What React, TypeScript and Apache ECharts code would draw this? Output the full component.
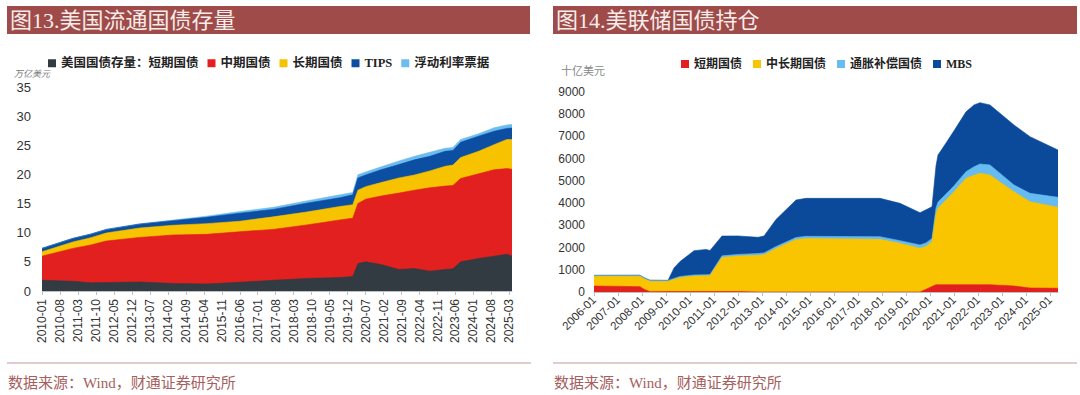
import React, { useEffect, useRef } from "react";
import * as echarts from "echarts";

// ---------- Left chart: 美国流通国债存量 (万亿美元) ----------
const leftDates = [
  "2010-01", "2011-01", "2011-08", "2012-02", "2013-03", "2014-04", "2015-05", "2016-06",
  "2017-07", "2018-08", "2019-09", "2020-02", "2020-04", "2020-07", "2021-01", "2021-08",
  "2022-02", "2022-08", "2023-02", "2023-05", "2023-08", "2024-03", "2024-09", "2025-02", "2025-04",
];
const leftBills = [1.84, 1.68, 1.4, 1.45, 1.55, 1.3, 1.2, 1.5, 1.84, 2.15, 2.3, 2.5, 4.7, 5.0, 4.55, 3.68, 3.85, 3.4, 3.7, 3.8, 5.0, 5.58, 5.98, 6.3, 6.0];
const leftNotes = [4.14, 5.63, 6.5, 7.12, 7.65, 8.3, 8.52, 8.67, 8.73, 9.18, 9.9, 10.0, 10.3, 10.75, 11.75, 13.12, 13.45, 14.3, 14.3, 14.3, 14.3, 14.52, 14.82, 14.7, 14.9];
const leftBonds = [0.75, 1.1, 1.25, 1.38, 1.6, 1.68, 1.83, 1.8, 2.15, 2.22, 2.3, 2.3, 2.3, 2.15, 2.3, 2.6, 2.6, 2.9, 3.4, 3.5, 3.6, 3.87, 4.3, 5.0, 5.1];
const leftTips = [0.6, 0.62, 0.62, 0.62, 0.7, 0.79, 1.09, 1.37, 1.28, 1.51, 1.5, 1.7, 2.1, 2.0, 2.2, 2.3, 2.6, 2.5, 2.57, 2.5, 2.6, 2.6, 2.3, 1.9, 1.95];
const leftFrn = [0, 0, 0, 0, 0, 0.1, 0.2, 0.3, 0.35, 0.4, 0.5, 0.4, 0.55, 0.5, 0.5, 0.6, 0.6, 0.7, 0.53, 0.5, 0.5, 0.4, 0.6, 0.6, 0.6];
const leftNames = ["美国国债存量：短期国债", "中期国债", "长期国债", "TIPS", "浮动利率票据"];
const leftColors = ["#323a42", "#e2201f", "#f7c200", "#0b4ea2", "#6cbcf0"];
const leftYTicks = { min: 0, max: 35, interval: 5 };

// ---------- Right chart: 美联储国债持仓 (十亿美元) ----------
const rightDates = [
  "2006-01", "2007-12", "2008-02", "2008-05", "2009-02", "2009-05", "2009-08", "2010-03",
  "2010-09", "2010-11", "2011-05", "2012-01", "2012-11", "2013-02", "2013-08", "2014-06",
  "2014-11", "2017-12", "2018-10", "2019-08", "2019-11", "2020-02", "2020-04", "2020-05",
  "2020-09", "2021-01", "2021-07", "2021-11", "2022-02", "2022-07", "2023-07", "2024-03", "2025-05",
];
const rightBills = [270, 240, 120, 15, 18, 18, 18, 18, 18, 18, 18, 18, 0, 0, 0, 0, 0, 0, 0, 0, 120, 250, 326, 326, 326, 326, 326, 326, 326, 326, 270, 180, 170];
const rightNotes = [440, 470, 480, 470, 460, 550, 630, 700, 710, 720, 1540, 1600, 1650, 1680, 1960, 2360, 2410, 2370, 2190, 1965, 1930, 2020, 3200, 3440, 3814, 4190, 4790, 4930, 5014, 4940, 4245, 3885, 3640];
const rightTips = [40, 45, 45, 45, 45, 45, 50, 50, 50, 50, 70, 75, 80, 80, 85, 90, 95, 120, 120, 150, 160, 140, 250, 285, 270, 260, 300, 380, 420, 450, 300, 375, 450];
const rightMbs = [0, 0, 0, 0, 0, 470, 670, 1090, 1140, 1080, 890, 830, 730, 760, 1220, 1690, 1710, 1725, 1680, 1455, 1490, 1430, 1900, 2115, 2290, 2480, 2690, 2784, 2760, 2700, 2700, 2550, 2130];
const rightNames = ["短期国债", "中长期国债", "通胀补偿国债", "MBS"];
const rightColors = ["#e2201f", "#f9c400", "#66bbf0", "#0b4a9b"];
const rightYTicks = { min: 0, max: 9000, interval: 1000 };

const leftBaseYear = 2010;
const leftMaxIndex = 183; // 2025-04
const rightBaseYear = 2006;
const rightMaxIndex = 232; // 2025-05

const monthIndex = (d: string, base: number) => {
  const [y, m] = d.split("-").map(Number);
  return (y - base) * 12 + (m - 1);
};
const monthLabel = (v: number, base: number) => {
  const y = base + Math.floor(v / 12);
  const m = (v % 12) + 1;
  return `${y}-${m < 10 ? "0" + m : m}`;
};

function buildStack(
  dates: string[],
  base: number,
  layers: number[][],
  names: string[],
  colors: string[],
  axisIndex: number
) {
  const xs = dates.map((d) => monthIndex(d, base));
  const cum: number[][] = [];
  layers.forEach((arr, li) => {
    cum.push(arr.map((v, i) => (li === 0 ? v : cum[li - 1][i] + v)));
  });
  const series: any[] = [];
  for (let li = layers.length - 1; li >= 0; li--) {
    series.push({
      name: names[li],
      type: "line",
      xAxisIndex: axisIndex,
      yAxisIndex: axisIndex,
      data: xs.map((x, i) => [x, +cum[li][i].toFixed(3)]),
      symbol: "none",
      showSymbol: false,
      silent: true,
      lineStyle: { width: 0.6, color: colors[li] },
      itemStyle: { color: colors[li] },
      areaStyle: { color: colors[li], opacity: 1 },
      emphasis: { disabled: true },
      z: 2,
    });
  }
  return series;
}

const SERIF = '"Liberation Serif", "Noto Sans CJK SC", serif';
const SANS = '"Liberation Sans", Arial, sans-serif';

export default function App() {
  const ref = useRef<HTMLDivElement>(null);
  useEffect(() => {
    if (!ref.current) return;
    const chart = echarts.init(ref.current, null, { renderer: "svg" });
    const leftSeries = buildStack(
      leftDates, leftBaseYear,
      [leftBills, leftNotes, leftBonds, leftTips, leftFrn],
      leftNames, leftColors, 0
    );
    const rightSeries = buildStack(
      rightDates, rightBaseYear,
      [rightBills, rightNotes, rightTips, rightMbs],
      rightNames, rightColors, 1
    );
    const axisGrey = "#bfbfbf";
    const option: any = {
      animation: false,
      backgroundColor: "#ffffff",
      grid: [
        { left: 42, top: 87, width: 470, height: 204 },
        { left: 594, top: 92, width: 464, height: 200 },
      ],
      legend: [
        {
          left: 43, top: 52, itemWidth: 8, itemHeight: 8, itemGap: 9, icon: "rect",
          selectedMode: false, data: leftNames,
          textStyle: { fontSize: 12.5, fontWeight: "bold", fontFamily: SERIF, color: "#222" },
        },
        {
          left: 676, top: 53, itemWidth: 8, itemHeight: 8, itemGap: 11, icon: "rect",
          selectedMode: false, data: rightNames,
          textStyle: { fontSize: 12, fontWeight: "bold", fontFamily: SERIF, color: "#222" },
        },
      ],
      xAxis: [
        {
          type: "value", gridIndex: 0, min: 0, max: leftMaxIndex, interval: 7,
          axisLine: { show: true, onZero: false, lineStyle: { color: axisGrey } },
          axisTick: { show: true, length: 4, lineStyle: { color: axisGrey } },
          splitLine: { show: false },
          axisLabel: {
            rotate: 90, fontSize: 12, color: "#333", fontFamily: SANS, margin: 8,
            showMaxLabel: false, formatter: (v: number) => monthLabel(v, leftBaseYear),
          },
        },
        {
          type: "value", gridIndex: 1, min: 0, max: rightMaxIndex, interval: 12,
          axisLine: { show: true, onZero: false, lineStyle: { color: axisGrey } },
          axisTick: { show: true, length: 4, lineStyle: { color: axisGrey } },
          splitLine: { show: false },
          axisLabel: {
            rotate: 45, fontSize: 11.5, color: "#333", fontFamily: SANS, margin: 6,
            showMaxLabel: false, formatter: (v: number) => monthLabel(v, rightBaseYear),
          },
        },
      ],
      yAxis: [
        {
          type: "value", gridIndex: 0, ...leftYTicks,
          axisLine: { show: false }, axisTick: { show: false }, splitLine: { show: false },
          axisLabel: { fontSize: 13, color: "#333", fontFamily: SANS, margin: 11, formatter: (v: number) => String(v) },
        },
        {
          type: "value", gridIndex: 1, ...rightYTicks,
          axisLine: { show: false }, axisTick: { show: false }, splitLine: { show: false },
          axisLabel: { fontSize: 12, color: "#333", fontFamily: SANS, margin: 9, formatter: (v: number) => String(v) },
        },
      ],
      graphic: [
        { type: "rect", shape: { x: 7, y: 6, width: 523, height: 28 }, style: { fill: "#9e4b49" }, silent: true },
        { type: "rect", shape: { x: 553, y: 6, width: 524, height: 28 }, style: { fill: "#9e4b49" }, silent: true },
        {
          type: "text", x: 10, y: 20, silent: true,
          style: { text: "图13.美国流通国债存量", fill: "#f7ecea", fontSize: 22, fontFamily: SERIF, verticalAlign: "middle", align: "left" },
        },
        {
          type: "text", x: 556, y: 20, silent: true,
          style: { text: "图14.美联储国债持仓", fill: "#f7ecea", fontSize: 22, fontFamily: SERIF, verticalAlign: "middle", align: "left" },
        },
        {
          type: "text", x: 14, y: 74, silent: true,
          style: { text: "万亿美元", fill: "#777", fontSize: 9, fontFamily: SERIF, fontStyle: "italic", verticalAlign: "middle" },
        },
        {
          type: "text", x: 561, y: 71, silent: true,
          style: { text: "十亿美元", fill: "#888", fontSize: 11, fontFamily: SERIF, verticalAlign: "middle" },
        },
        { type: "line", shape: { x1: 7, y1: 363, x2: 531, y2: 363 }, style: { stroke: "#c49a98", lineWidth: 1 }, silent: true },
        { type: "line", shape: { x1: 553, y1: 363, x2: 1077, y2: 363 }, style: { stroke: "#c49a98", lineWidth: 1 }, silent: true },
        {
          type: "text", x: 8, y: 383, silent: true,
          style: { text: "数据来源：Wind，财通证券研究所", fill: "#a5605d", fontSize: 15, fontFamily: SERIF, verticalAlign: "middle" },
        },
        {
          type: "text", x: 554, y: 383, silent: true,
          style: { text: "数据来源：Wind，财通证券研究所", fill: "#a5605d", fontSize: 15, fontFamily: SERIF, verticalAlign: "middle" },
        },
      ],
      series: [...leftSeries, ...rightSeries],
    };
    chart.setOption(option);
    return () => chart.dispose();
  }, []);
  return (
    <div
      ref={ref}
      style={{ position: "fixed", left: 0, top: 0, width: 1080, height: 395, background: "#fff" }}
    />
  );
}
